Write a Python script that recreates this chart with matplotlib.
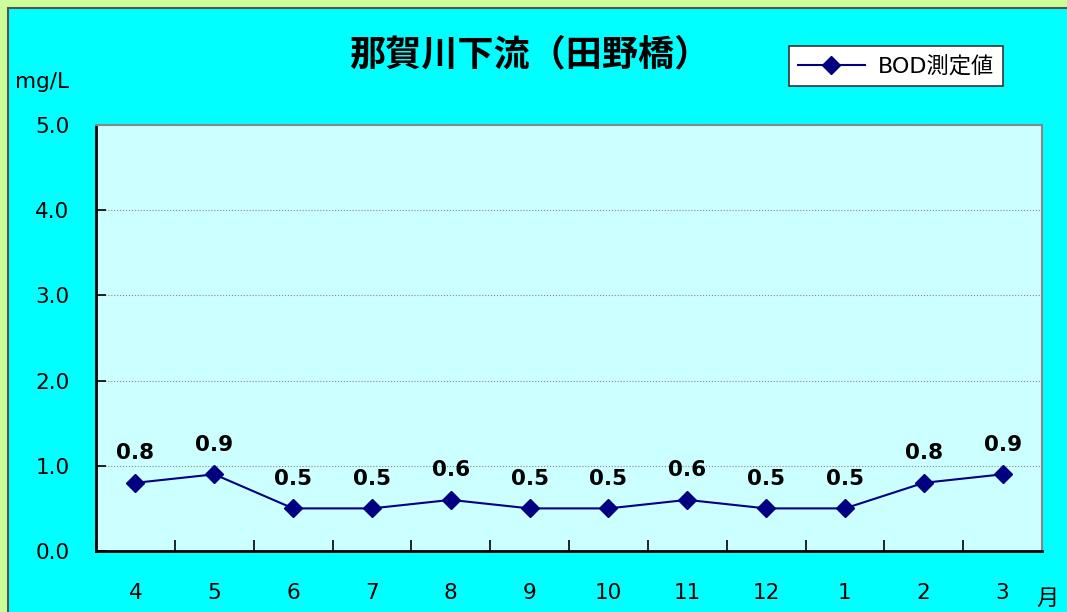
import matplotlib.pyplot as plt
import matplotlib.patches as mpatches

plt.rcParams['font.family'] = ['DejaVu Sans', 'Noto Sans CJK JP']

# data
months = ['4', '5', '6', '7', '8', '9', '10', '11', '12', '1', '2', '3']
bod = [0.8, 0.9, 0.5, 0.5, 0.6, 0.5, 0.5, 0.6, 0.5, 0.5, 0.8, 0.9]

fig = plt.figure(figsize=(10.67, 6.12), dpi=100)
fig.patch.set_facecolor('#CCFF99')

# cyan chart panel
panel = mpatches.Rectangle((8 / 1067, -0.02), 1.1, 1 - 8 / 612 + 0.02,
                           transform=fig.transFigure, facecolor='#00FFFF',
                           edgecolor='#555555', linewidth=1.5, zorder=-10)
fig.patches.append(panel)

ax = fig.add_axes([96 / 1067, 1 - 551 / 612, 946 / 1067, 426 / 612])
ax.set_facecolor('#CCFFFF')

x = [i + 0.5 for i in range(len(months))]
ax.plot(x, bod, color='#000080', linewidth=1.5, marker='D', markersize=9,
        label='BOD測定値', zorder=3)

for xi, v in zip(x, bod):
    ax.annotate(f'{v:.1f}', (xi, v), xytext=(0, 14), textcoords='offset points',
                ha='center', va='bottom', fontsize=15.5, fontweight='bold')

ax.set_xlim(0, 12)
ax.set_ylim(0, 5)
ax.set_yticks([0, 1, 2, 3, 4, 5])
ax.set_yticklabels(['0.0', '1.0', '2.0', '3.0', '4.0', '5.0'])
ax.tick_params(axis='y', direction='in', length=7, width=1.2, pad=19,
               labelsize=15.5)

ax.set_xticks(range(0, 13))
ax.set_xticklabels([])
ax.set_xticks(x, minor=True)
ax.set_xticklabels(months, minor=True)
ax.tick_params(axis='x', which='major', direction='in', length=8, width=1.2)
ax.tick_params(axis='x', which='minor', length=0, pad=23, labelsize=15.5)

ax.grid(axis='y', linestyle=':', color='#888888', linewidth=0.8)
ax.set_axisbelow(True)

for s in ['left', 'bottom']:
    ax.spines[s].set_color('black')
    ax.spines[s].set_linewidth(2)
for s in ['top', 'right']:
    ax.spines[s].set_color('#888888')
    ax.spines[s].set_linewidth(1.5)

fig.text(530 / 1067, 1 - 55 / 612, '那賀川下流（田野橋）', ha='center', va='center',
         fontsize=26, fontweight='bold', family='Noto Sans CJK JP')
fig.text(15 / 1067, 1 - 82 / 612, 'mg/L', ha='left', va='center', fontsize=15.5)
fig.text(1047 / 1067, 1 - 598 / 612, '月', ha='center', va='center', fontsize=16,
         family='Noto Sans CJK JP')

leg = ax.legend(loc='center', bbox_to_anchor=(896 / 1067, 1 - 66 / 612),
                bbox_transform=fig.transFigure, fontsize=16, frameon=True,
                fancybox=False, edgecolor='#333333', handlelength=3,
                borderpad=0.4, framealpha=1, handletextpad=0.6)
leg.get_frame().set_linewidth(1.2)

fig.savefig('out.png', dpi=100, facecolor=fig.get_facecolor())
